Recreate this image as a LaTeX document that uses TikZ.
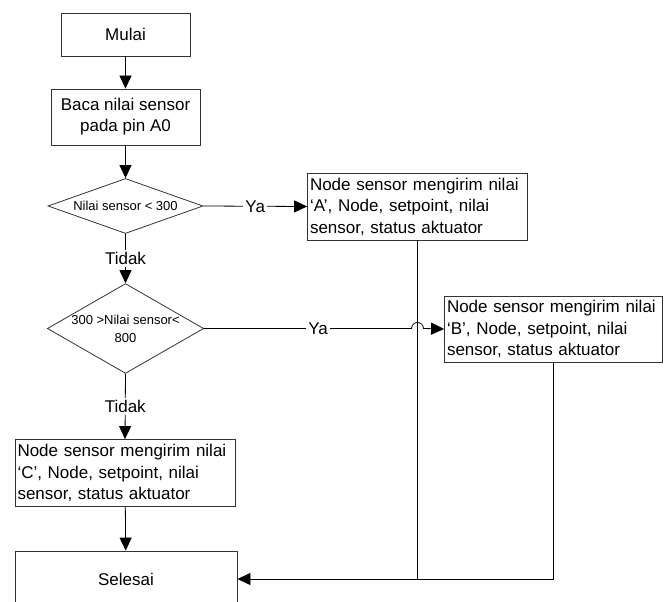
\documentclass[tikz,border=0pt]{standalone}
\usepackage{fontspec}
\setmainfont{Liberation Sans}
\usetikzlibrary{arrows.meta, calc, shapes.geometric}

\begin{document}
\begin{tikzpicture}[x=1pt, y=-1pt, line width=0.8pt,
	every node/.style={inner sep=2pt},
	arr/.style={-{Triangle[length=13pt, width=12pt]}},
	termbox/.style={draw=black!80, minimum height=#1, font=\fontsize{17}{21}\selectfont, align=center},
	procbox/.style={draw=black!80, text width=215pt, inner sep=2.5pt, minimum height=67pt, align=left, font=\fontsize{17}{21.5}\selectfont},
	decision/.style={diamond, draw=black!80, inner sep=0pt, minimum width=155pt, font=\fontsize{13}{18}\selectfont, align=center},
	lbl/.style={fill=white, font=\fontsize{17}{20}\selectfont}]
	\useasboundingbox (0, 0) rectangle (672, 602);
	% left column
	\node[termbox=43pt, minimum width=129pt] (mulai) at (125.5, 34.5) {Mulai};
	\node[termbox=56pt, minimum width=149pt] (baca) at (125.5, 117) {Baca nilai sensor\\pada pin A0};
	\node[decision, minimum height=55pt, aspect=2.8] (cek1) at (125.5, 206) {Nilai sensor < 300};
	\node[decision, minimum height=89pt, aspect=1.74] (cek2) at (125.5, 328.5) {300 >Nilai sensor<\\800};
	\node[procbox] (kirimC) at (125, 473) {Node sensor mengirim nilai\\‘C’, Node, setpoint, nilai\\sensor, status aktuator};
	\node[termbox=56pt, minimum width=222pt] (selesai) at (126, 579) {Selesai};
	% right side
	\node[procbox] (kirimA) at (417.5, 206.5) {Node sensor mengirim nilai\\‘A’, Node, setpoint, nilai\\sensor, status aktuator};
	\node[procbox, text width=213pt, minimum height=66pt] (kirimB) at (553.5, 329) {Node sensor mengirim nilai\\‘B’, Node, setpoint, nilai\\sensor, status aktuator};

	\draw[arr] (mulai) -- (baca);
	\draw[arr] (baca) -- (cek1);
	\draw[arr] (cek1.east) -- node[lbl] {Ya} (kirimA.west);
	\draw[arr] (cek1.south) -- node[lbl] {Tidak} (cek2.north);
	\draw[arr] (cek2.east) -- node[lbl, pos=0.55] {Ya} ($(cek2.east -| kirimA.south)+(-6, 0)$) arc (180:360:6) -- (kirimB.west);
	\draw[arr] (cek2.south) -- node[lbl] {Tidak} (kirimC.north);
	\draw[arr] (kirimC) -- (selesai);
	\draw (kirimA.south) -- (kirimA.south |- selesai.east);
	\draw[arr] (kirimB.south) |- (selesai.east);

\end{tikzpicture}
\end{document}
